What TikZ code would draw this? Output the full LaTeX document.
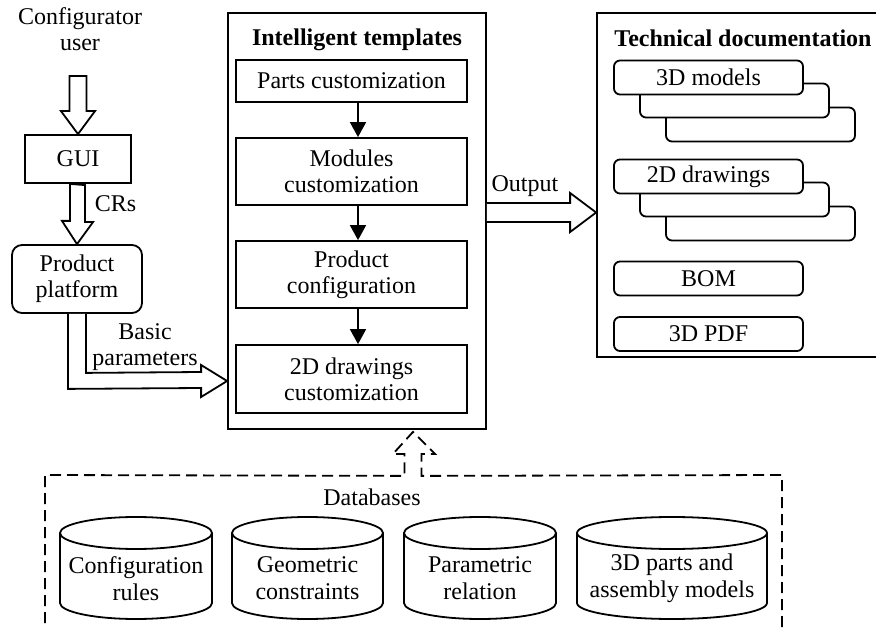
\documentclass[tikz,border=0pt]{standalone}
\usepackage{fontspec}
\setmainfont{Liberation Serif}
\usetikzlibrary{arrows.meta,calc}
\begin{document}
\begin{tikzpicture}[x=1pt,y=-1pt,line width=1.8pt,
  every node/.style={font=\fontsize{24}{26}\selectfont, align=center, inner sep=0pt},
  box/.style={draw, fill=white, minimum width=231pt},
  doc/.style={draw, fill=white, rounded corners=6pt, minimum width=189pt, minimum height=34pt},
  flow/.style={-{Triangle[length=15pt,width=16pt]}, line width=1.8pt},
  fat/.style={line width=1.8pt, line join=miter, fill=white},
  dbline/.style={line width=1.8pt, dash pattern=on 11pt off 6pt},
  cyltext/.style={font=\fontsize{24}{27}\selectfont}
]
\useasboundingbox (0,0) rectangle (876,628);

% left column
\node (user) at (80,29) {Configurator\\user};
\node[draw, minimum width=106pt, minimum height=48pt] (gui) at (78,159) {GUI};
\node[draw, rounded corners=10pt, minimum width=130pt, minimum height=68pt] (pp) at (77,279) {Product\\platform};

\path (gui.north) ++(0,-58) coordinate (uS);
\draw[fat] ($(uS)+(-8.5,0)$) -- ++(0,35) -- ++(-8.5,0) -- (gui.north) -- ++(17,-23) -- ++(-8.5,0) -- ++(0,-35) -- cycle;
\draw[fat] ($(gui.south)+(-8,0)$) -- ++(0,37) -- ++(-8,0) -- (pp.north) -- ++(16,-22) -- ++(-8,0) -- ++(0,-37) -- cycle;
\node[anchor=west] (crs) at (94,204) {CRs};

% intelligent templates
\node[draw, minimum width=258pt, minimum height=416pt] (it) at (357,221) {};
\node[font=\fontsize{24}{26}\selectfont\bfseries] (itt) at (357,40) {Intelligent templates};
\node[box, minimum height=42pt] (parts) at (351.5,81) {Parts customization};
\node[box, minimum height=67pt] (mods) at (351.5,171.5) {Modules\\customization};
\node[box, minimum height=67pt] (pconf) at (351.5,274.5) {Product\\configuration};
\node[box, minimum height=68pt] (dcust) at (351.5,379) {2D drawings\\customization};
\draw[flow] ([xshift=6.5pt]parts.south) -- ([xshift=6.5pt]mods.north);
\draw[flow] ([xshift=6.5pt]mods.south) -- ([xshift=6.5pt]pconf.north);
\draw[flow] ([xshift=6.5pt]pconf.south) -- ([xshift=6.5pt]dcust.north);

% basic parameters arrow
\coordinate (bpT) at ($(it.west)+(0,160)$);
\draw[fat] ($(pp.south)+(-9,0)$) -- ($(pp.south)+(-9,75)$) -- ($(bpT)+(-26,7)$) -- ($(bpT)+(-26,16)$) -- (bpT)
  -- ($(bpT)+(-26,-16)$) -- ($(bpT)+(-26,-9)$) -- ($(pp.south)+(9,59)$) -- ($(pp.south)+(9,0)$);
\node (bp) at (145,347) {Basic\\parameters};

% technical documentation
\node[draw, minimum width=283pt, minimum height=344pt] (td) at (738.5,185) {};
\node[font=\fontsize{24}{26}\selectfont\bfseries] (tdt) at (743,38) {Technical documentation};
\node[doc] (m3) at (760.5,124.5) {};
\node[doc] (m2) at (734.5,100.5) {};
\node[doc] (m1) at (708.5,77.5) {3D models};
\node[doc] (d3) at (760.5,223.5) {};
\node[doc] (d2) at (734.5,199.5) {};
\node[doc] (d1) at (708.5,176.5) {2D drawings};
\node[doc] (bom) at (708.5,278.5) {BOM};
\node[doc] (pdf) at (708.5,334) {3D PDF};

% output arrow
\coordinate (oS) at ($(it.east)+(0,-8.5)$);
\coordinate (oT) at ($(td.west)+(0,27.5)$);
\draw[fat] ($(oS)+(0,-9.5)$) -- ($(oT)+(-26,-9.5)$) -- ($(oT)+(-26,-19.5)$) -- (oT)
  -- ($(oT)+(-26,19.5)$) -- ($(oT)+(-26,9.5)$) -- ($(oS)+(0,9.5)$);
\node (out) at (525,186) {Output};

% databases
\coordinate (dbT) at ($(it.south)+(56,2)$);
\draw[dbline] (45,640) -- (45,475) -- ($(dbT)+(-8.5,44)$) -- ($(dbT)+(-8.5,22)$) -- ($(dbT)+(-20,22)$) -- (dbT)
  -- ($(dbT)+(22,22)$) -- ($(dbT)+(8.5,22)$) -- ($(dbT)+(8.5,44)$) -- (782,475) -- (782,640);
\node (dbl) at (372,497) {Databases};

\foreach \n/\cx/\rx/\t in {db1/136/76/{Configuration\\rules}, db2/307.5/75.5/{Geometric\\constraints},
  db3/480/76/{Parametric\\relation}, db4/672/95/{3D parts and\\assembly models}}{
  \draw[fill=white] (\cx,533) ellipse [x radius=\rx pt, y radius=16pt];
  \draw (\cx-\rx,533) -- (\cx-\rx,603) arc[start angle=180, end angle=360, x radius=\rx pt, y radius=16pt] -- (\cx+\rx,533);
  \node[cyltext] (\n) at (\cx,578.5) {\t};
}
\end{tikzpicture}
\end{document}
